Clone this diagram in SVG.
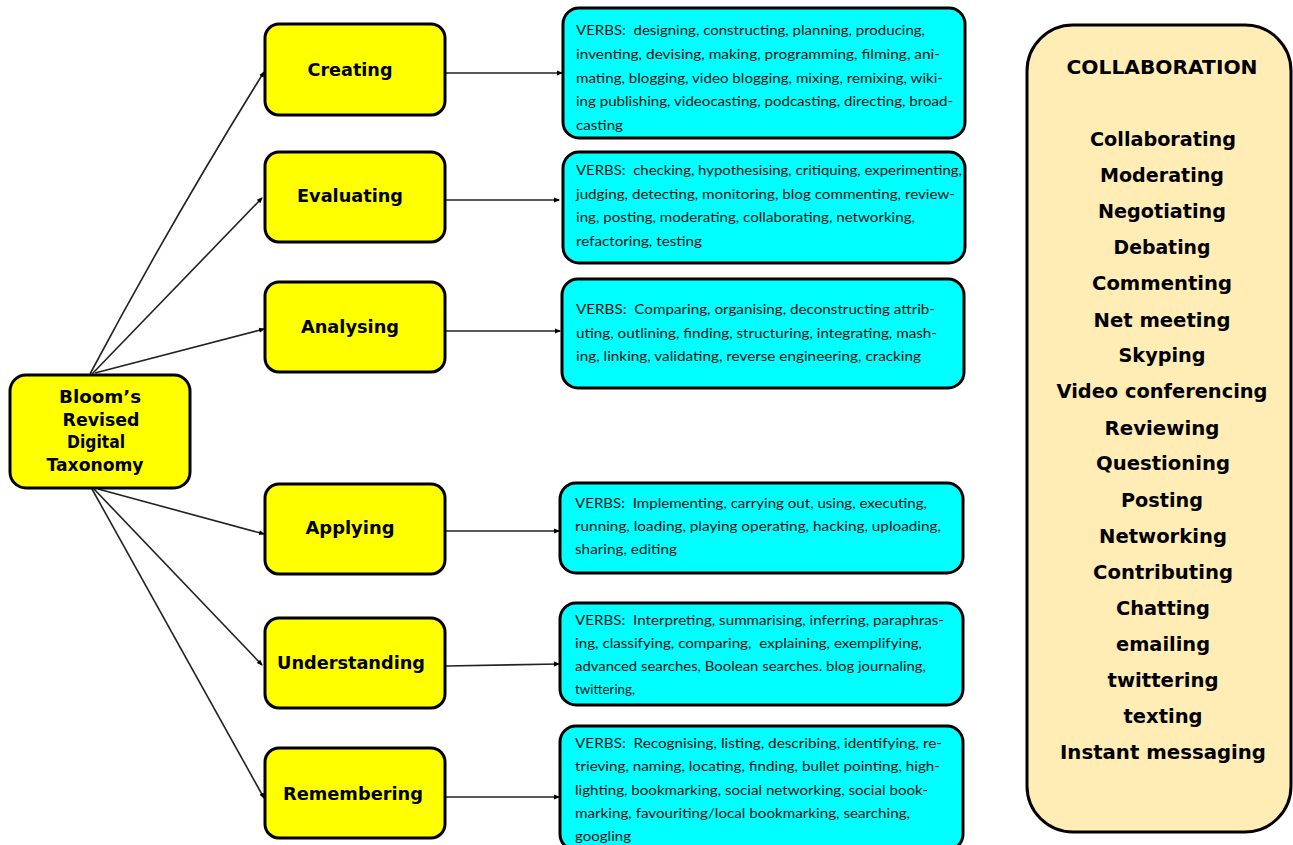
<svg xmlns="http://www.w3.org/2000/svg" width="1293" height="845" viewBox="0 0 1293 845">
<defs>
<marker id="ah" markerWidth="6" markerHeight="6" refX="5" refY="3" orient="auto" markerUnits="userSpaceOnUse">
<path d="M0,0.5 L6,3 L0,5.5 Z" fill="#000"/>
</marker>
<style>
.y{fill:#FFFF00;stroke:#000;stroke-width:3}
.c{fill:#00FFFF;stroke:#000;stroke-width:3}
.b{fill:#FFEDB5;stroke:#000;stroke-width:3}
.lbl{font-family:"DejaVu Sans",Verdana,sans-serif;font-weight:bold;font-size:17px;fill:#000;text-anchor:middle}
.col{font-family:"DejaVu Sans",Verdana,sans-serif;font-weight:bold;font-size:19px;fill:#000;text-anchor:middle}
.v{font-family:Lato,"Liberation Sans",sans-serif;font-size:14px;fill:#111;white-space:pre}
.ln{fill:none;stroke:#222;stroke-width:1.6;marker-end:url(#ah)}
</style>
</defs>
<rect width="1293" height="845" fill="#fff"/>

<g id="connectors">
<path class="ln" d="M90,374 Q173,218 264,72"/>
<path class="ln" d="M92,374 L262,198"/>
<path class="ln" d="M95,373 L264,329"/>
<path class="ln" d="M98,489 L264,534"/>
<path class="ln" d="M94,489 L262,665"/>
<path class="ln" d="M92,489 L264,798"/>
<path class="ln" d="M446,73 L562,73"/>
<path class="ln" d="M446,200 L559,200"/>
<path class="ln" d="M446,331 L560,331"/>
<path class="ln" d="M446,531 L559,531"/>
<path class="ln" d="M446,666 L559,664"/>
<path class="ln" d="M446,797 L559,797"/>
</g>

<g id="root">
<rect class="y" x="10" y="375" width="180" height="113" rx="16"/>
<text class="lbl" x="100" y="403" textLength="82" lengthAdjust="spacingAndGlyphs">Bloom’s</text>
<text class="lbl" x="101" y="426" textLength="77" lengthAdjust="spacingAndGlyphs">Revised</text>
<text class="lbl" x="96" y="448" textLength="58" lengthAdjust="spacingAndGlyphs">Digital</text>
<text class="lbl" x="95" y="471" textLength="97" lengthAdjust="spacingAndGlyphs">Taxonomy</text>
</g>

<g id="creating">
<rect class="y" x="265" y="24" width="180" height="91" rx="14"/>
<text class="lbl" x="350" y="76" textLength="85" lengthAdjust="spacingAndGlyphs">Creating</text>
</g>
<g id="evaluating">
<rect class="y" x="265" y="152" width="180" height="90" rx="14"/>
<text class="lbl" x="350" y="202" textLength="106" lengthAdjust="spacingAndGlyphs">Evaluating</text>
</g>
<g id="analysing">
<rect class="y" x="265" y="282" width="180" height="90" rx="14"/>
<text class="lbl" x="350" y="333" textLength="98" lengthAdjust="spacingAndGlyphs">Analysing</text>
</g>
<g id="applying">
<rect class="y" x="265" y="484" width="180" height="90" rx="14"/>
<text class="lbl" x="350" y="534" textLength="89" lengthAdjust="spacingAndGlyphs">Applying</text>
</g>
<g id="understanding">
<rect class="y" x="265" y="618" width="180" height="90" rx="14"/>
<text class="lbl" x="351" y="669" textLength="148" lengthAdjust="spacingAndGlyphs">Understanding</text>
</g>
<g id="remembering">
<rect class="y" x="265" y="748" width="180" height="90" rx="14"/>
<text class="lbl" x="353" y="800" textLength="140" lengthAdjust="spacingAndGlyphs">Remembering</text>
</g>

<g id="verbs-creating">
<rect class="c" x="563" y="8" width="402" height="130" rx="16"/>
<text class="v" x="576" y="35" textLength="349" lengthAdjust="spacingAndGlyphs">VERBS:&#160; designing, constructing, planning, producing,</text>
<text class="v" x="576" y="59" textLength="364" lengthAdjust="spacingAndGlyphs">inventing, devising, making, programming, filming, ani-</text>
<text class="v" x="576" y="83" textLength="367" lengthAdjust="spacingAndGlyphs">mating, blogging, video blogging, mixing, remixing, wiki-</text>
<text class="v" x="576" y="106" textLength="377" lengthAdjust="spacingAndGlyphs">ing publishing, videocasting, podcasting, directing, broad-</text>
<text class="v" x="576" y="130" textLength="47" lengthAdjust="spacingAndGlyphs">casting</text>
</g>
<g id="verbs-evaluating">
<rect class="c" x="563" y="152" width="402" height="111" rx="16"/>
<text class="v" x="576" y="175" textLength="386" lengthAdjust="spacingAndGlyphs">VERBS:&#160; checking, hypothesising, critiquing, experimenting,</text>
<text class="v" x="576" y="199" textLength="379" lengthAdjust="spacingAndGlyphs">judging, detecting, monitoring, blog commenting, review-</text>
<text class="v" x="576" y="222" textLength="339" lengthAdjust="spacingAndGlyphs">ing, posting, moderating, collaborating, networking,</text>
<text class="v" x="576" y="246" textLength="126" lengthAdjust="spacingAndGlyphs">refactoring, testing</text>
</g>
<g id="verbs-analysing">
<rect class="c" x="562" y="279" width="402" height="109" rx="16"/>
<text class="v" x="576" y="314" textLength="359" lengthAdjust="spacingAndGlyphs">VERBS:&#160; Comparing, organising, deconstructing attrib-</text>
<text class="v" x="576" y="338" textLength="361" lengthAdjust="spacingAndGlyphs">uting, outlining, finding, structuring, integrating, mash-</text>
<text class="v" x="576" y="361" textLength="345" lengthAdjust="spacingAndGlyphs">ing, linking, validating, reverse engineering, cracking</text>
</g>
<g id="verbs-applying">
<rect class="c" x="560" y="483" width="403" height="90" rx="16"/>
<text class="v" x="575" y="508" textLength="352" lengthAdjust="spacingAndGlyphs">VERBS:&#160; Implementing, carrying out, using, executing,</text>
<text class="v" x="575" y="531" textLength="366" lengthAdjust="spacingAndGlyphs">running, loading, playing operating, hacking, uploading,</text>
<text class="v" x="575" y="554" textLength="102" lengthAdjust="spacingAndGlyphs">sharing, editing</text>
</g>
<g id="verbs-understanding">
<rect class="c" x="560" y="603" width="403" height="102" rx="16"/>
<text class="v" x="575" y="625" textLength="369" lengthAdjust="spacingAndGlyphs">VERBS:&#160; Interpreting, summarising, inferring, paraphras-</text>
<text class="v" x="575" y="648" textLength="347" lengthAdjust="spacingAndGlyphs">ing, classifying, comparing,&#160; explaining, exemplifying,</text>
<text class="v" x="575" y="671" textLength="351" lengthAdjust="spacingAndGlyphs">advanced searches, Boolean searches. blog journaling,</text>
<text class="v" x="575" y="694" textLength="60" lengthAdjust="spacingAndGlyphs">twittering,</text>
</g>
<g id="verbs-remembering">
<rect class="c" x="560" y="726" width="403" height="124" rx="16"/>
<text class="v" x="575" y="748" textLength="367" lengthAdjust="spacingAndGlyphs">VERBS:&#160; Recognising, listing, describing, identifying, re-</text>
<text class="v" x="575" y="771" textLength="365" lengthAdjust="spacingAndGlyphs">trieving, naming, locating, finding, bullet pointing, high-</text>
<text class="v" x="575" y="795" textLength="353" lengthAdjust="spacingAndGlyphs">lighting, bookmarking, social networking, social book-</text>
<text class="v" x="575" y="818" textLength="335" lengthAdjust="spacingAndGlyphs">marking, favouriting/local bookmarking, searching,</text>
<text class="v" x="575" y="841" textLength="56" lengthAdjust="spacingAndGlyphs">googling</text>
</g>

<g id="collaboration">
<rect class="b" x="1027" y="25" width="264" height="807" rx="46"/>
<text class="col" x="1162" y="74" font-size="17" textLength="191" lengthAdjust="spacingAndGlyphs">COLLABORATION</text>
<text class="col" x="1163" y="146" textLength="146" lengthAdjust="spacingAndGlyphs">Collaborating</text>
<text class="col" x="1162" y="182" textLength="124" lengthAdjust="spacingAndGlyphs">Moderating</text>
<text class="col" x="1162" y="218" textLength="128" lengthAdjust="spacingAndGlyphs">Negotiating</text>
<text class="col" x="1162" y="254" textLength="97" lengthAdjust="spacingAndGlyphs">Debating</text>
<text class="col" x="1162" y="290" textLength="140" lengthAdjust="spacingAndGlyphs">Commenting</text>
<text class="col" x="1162" y="327" textLength="137" lengthAdjust="spacingAndGlyphs">Net meeting</text>
<text class="col" x="1162" y="362" textLength="87" lengthAdjust="spacingAndGlyphs">Skyping</text>
<text class="col" x="1162" y="398" textLength="211" lengthAdjust="spacingAndGlyphs">Video conferencing</text>
<text class="col" x="1162" y="435" textLength="115" lengthAdjust="spacingAndGlyphs">Reviewing</text>
<text class="col" x="1163" y="470" textLength="134" lengthAdjust="spacingAndGlyphs">Questioning</text>
<text class="col" x="1162" y="507" textLength="82" lengthAdjust="spacingAndGlyphs">Posting</text>
<text class="col" x="1163" y="543" textLength="128" lengthAdjust="spacingAndGlyphs">Networking</text>
<text class="col" x="1163" y="579" textLength="140" lengthAdjust="spacingAndGlyphs">Contributing</text>
<text class="col" x="1163" y="615" textLength="94" lengthAdjust="spacingAndGlyphs">Chatting</text>
<text class="col" x="1163" y="651" textLength="94" lengthAdjust="spacingAndGlyphs">emailing</text>
<text class="col" x="1163" y="687" textLength="111" lengthAdjust="spacingAndGlyphs">twittering</text>
<text class="col" x="1163" y="723" textLength="79" lengthAdjust="spacingAndGlyphs">texting</text>
<text class="col" x="1163" y="759" textLength="206" lengthAdjust="spacingAndGlyphs">Instant messaging</text>
</g>
</svg>
